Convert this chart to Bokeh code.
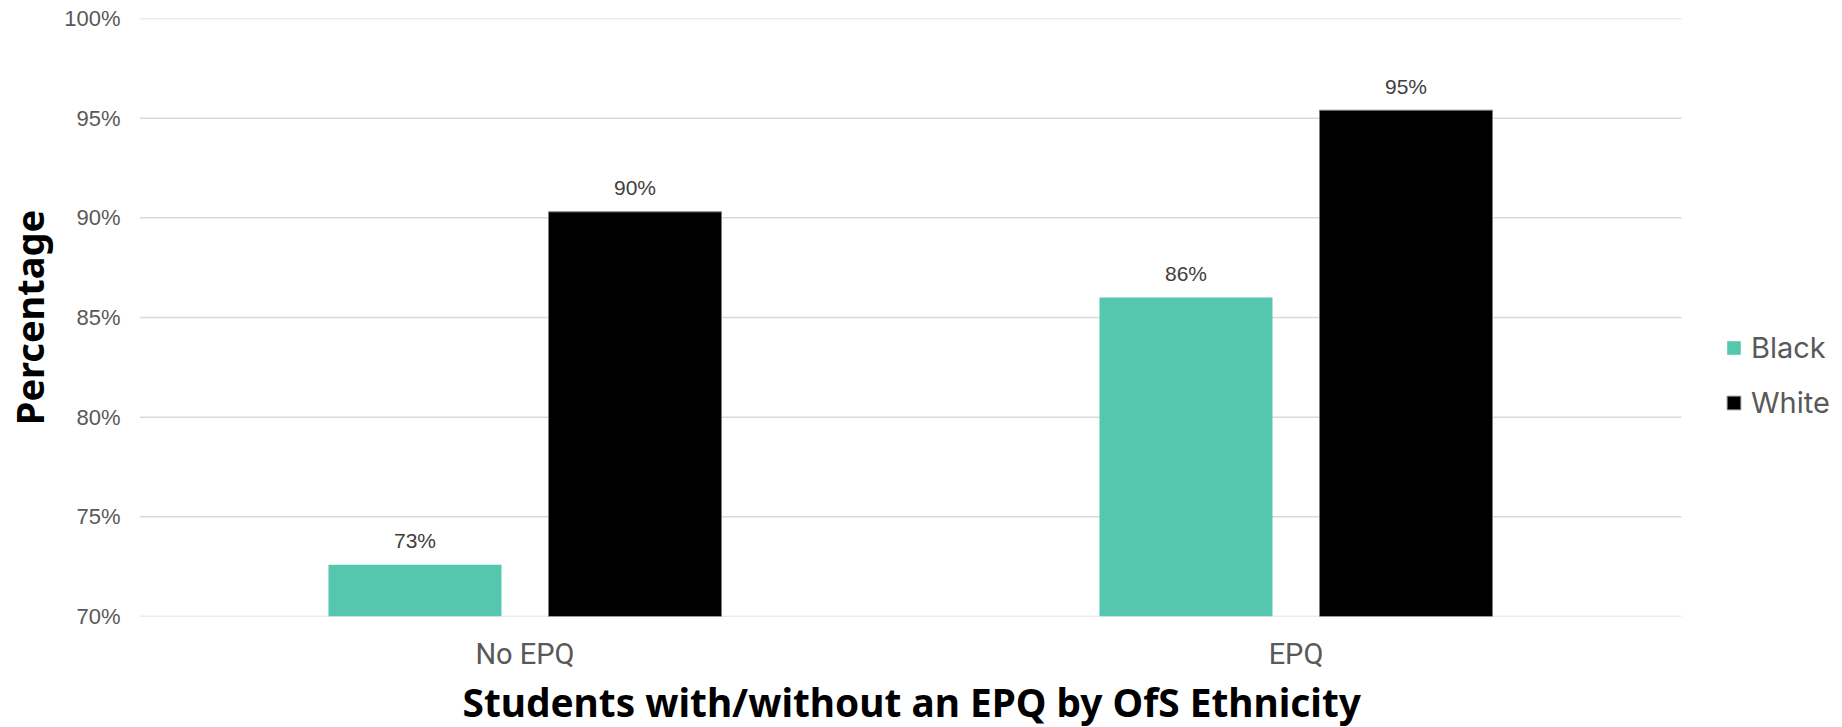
from bokeh.plotting import figure
from bokeh.models import (Range1d, FixedTicker, PrintfTickFormatter, Title,
                          ColumnDataSource, Legend, LegendItem)
from bokeh.transform import dodge
from bokeh.core.properties import value
from bokeh.embed import file_html
from bokeh.resources import INLINE

categories = ["No EPQ", "EPQ"]
black_values = [72.6, 86.0]
white_values = [90.3, 95.4]
series_names = ["Black", "White"]
series_colors = ["#55C7AE", "#000000"]
y_ticks = [70, 75, 80, 85, 90, 95, 100]

n = len(categories)
xpos = [i + 0.5 for i in range(n)]

src = ColumnDataSource(dict(
    x=xpos,
    black=black_values,
    white=white_values,
    black_lbl=[f"{round(v)}%" for v in black_values],
    white_lbl=[f"{round(v)}%" for v in white_values],
))
grid_src = ColumnDataSource(dict(y=y_ticks, x0=[0] * len(y_ticks), x1=[n] * len(y_ticks)))

p = figure(x_range=Range1d(0, n + 161 / 771), y_range=Range1d(70, 100),
           width=1842, height=727, output_backend="svg", toolbar_location=None,
           min_border_left=139, min_border_right=0, min_border_top=18,
           min_border_bottom=0)
p.outline_line_color = None

# horizontal grid lines (end at the last category like the reference)
p.segment(x0="x0", x1="x1", y0="y", y1="y", source=grid_src,
          line_color="#d9d9d9", line_width=1.5)
p.xgrid.grid_line_color = None
p.ygrid.grid_line_color = None

off = 0.1427
bw = 0.2244
r_black = p.vbar(x=dodge("x", -off), top="black", bottom=70,
                 width=bw, source=src, fill_color=series_colors[0], line_color=None)
r_white = p.vbar(x=dodge("x", off), top="white", bottom=70,
                 width=bw, source=src, fill_color=series_colors[1], line_color="#7f7f7f",
                 line_width=1)

lbl_font = value("Liberation Sans")
p.text(x=dodge("x", -off), y="black", text="black_lbl", source=src,
       text_align="center", text_baseline="middle", y_offset=-24,
       text_font=lbl_font, text_font_size="21px", text_color="#404040")
p.text(x=dodge("x", off), y="white", text="white_lbl", source=src,
       text_align="center", text_baseline="middle", y_offset=-24,
       text_font=lbl_font, text_font_size="21px", text_color="#404040")

p.yaxis.ticker = FixedTicker(ticks=y_ticks)
p.yaxis.formatter = PrintfTickFormatter(format="%d%%")
p.xaxis.ticker = FixedTicker(ticks=xpos)
p.xaxis.major_label_overrides = {x: c for x, c in zip(xpos, categories)}

for ax in (p.xaxis[0], p.yaxis[0]):
    ax.axis_line_color = None
    ax.major_tick_line_color = None
    ax.minor_tick_line_color = None
    ax.major_label_text_color = "#595959"

p.yaxis.major_label_text_font = "Liberation Sans"
p.yaxis.major_label_text_font_size = "22px"
p.yaxis.major_label_standoff = 13
p.yaxis.axis_label = "Percentage"
p.yaxis.axis_label_standoff = 6
p.yaxis.axis_label_text_font_style = "bold"
p.yaxis.axis_label_text_color = "#000000"
p.yaxis.axis_label_text_font = "Noto Sans"
p.yaxis.axis_label_text_font_size = "38px"

p.xaxis.major_label_text_font = "Roboto"
p.xaxis.major_label_text_font_size = "29px"
p.xaxis.major_label_standoff = 14

xtitle = Title(text="Students with/without an EPQ by OfS Ethnicity", align="left",
               offset=323, text_font="Noto Sans", text_font_style="bold",
               text_font_size="38.8px", text_color="#000000", standoff=0)
p.add_layout(xtitle, "below")

legend = Legend(items=[LegendItem(label=series_names[0], renderers=[r_black]),
                       LegendItem(label=series_names[1], renderers=[r_white])],
                location=(1586, 196), orientation="vertical",
                glyph_width=17, glyph_height=17, label_height=35, spacing=20,
                label_standoff=9, padding=0, margin=0,
                label_text_font="Inter", label_text_font_size="29px",
                label_text_color="#595959", border_line_color=None,
                background_fill_alpha=0)
p.add_layout(legend, "center")

open("out.html", "w").write(file_html(p, INLINE))
